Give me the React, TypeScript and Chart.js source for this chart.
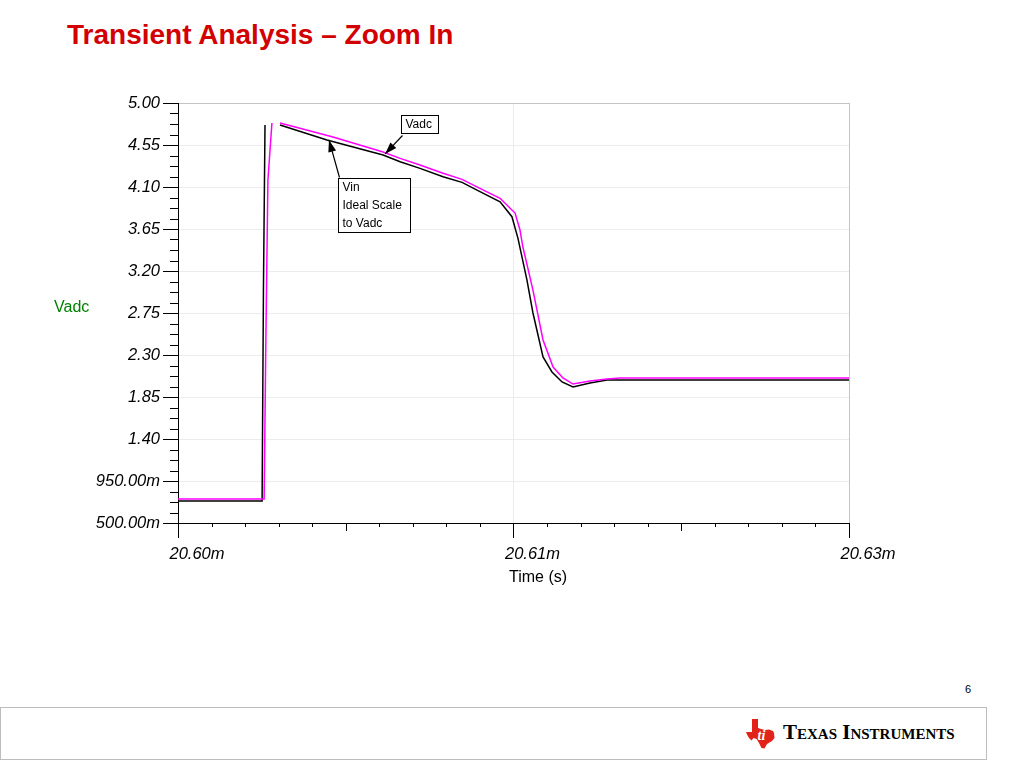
import React, { useEffect, useRef } from "react";
import { Chart, registerables } from "chart.js";

Chart.register(...registerables);

// ---- Data ----
const T_VIN = [20.6, 20.60376, 20.60382, 20.60389, 20.6042, 20.60456, 20.60666, 20.60917, 20.60993, 20.61082, 20.61185, 20.6127, 20.6135, 20.6144, 20.61493, 20.6152, 20.6156, 20.61587, 20.61632, 20.61672, 20.61717, 20.61766, 20.61842, 20.61918, 20.61976, 20.63];
const V_VIN = [0.736, 0.736, 3.0, 4.764, null, 4.764, 4.604, 4.443, 4.371, 4.3, 4.21, 4.15, 4.05, 3.942, 3.782, 3.55, 3.104, 2.75, 2.279, 2.118, 2.011, 1.957, 2.0, 2.032, 2.032, 2.032];

const T_VADC = [20.6, 20.60385, 20.60393, 20.60402, 20.6042, 20.6043, 20.60456, 20.60693, 20.60917, 20.60993, 20.61082, 20.61185, 20.6127, 20.6135, 20.6144, 20.61507, 20.61529, 20.61542, 20.61587, 20.61632, 20.61677, 20.61721, 20.61766, 20.61842, 20.61918, 20.61976, 20.63];
const V_VADC = [0.757, 0.757, 2.5, 4.175, 4.786, null, 4.786, 4.636, 4.475, 4.407, 4.336, 4.247, 4.182, 4.086, 3.979, 3.821, 3.639, 3.457, 2.996, 2.461, 2.171, 2.054, 1.989, 2.021, 2.043, 2.054, 2.054];

const X_MAJOR_TICKS = [20.6, 20.615, 20.63];
const X_TICK_LABELS = ["20.60m", "20.61m", "20.63m"];
const X_SUBDIV = 10;

const Y_MAJOR_TICKS = [0.5, 0.95, 1.4, 1.85, 2.3, 2.75, 3.2, 3.65, 4.1, 4.55, 5.0];
const Y_TICK_LABELS = ["500.00m", "950.00m", "1.40", "1.85", "2.30", "2.75", "3.20", "3.65", "4.10", "4.55", "5.00"];
const Y_SUBDIV = 4;

const X_TITLE = "Time (s)";
const Y_TITLE = "Vadc";

// annotation callouts (anchored in data space)
const CALLOUTS = [
  { lines: ["Vadc"], boxT: 20.60997, boxV: 4.871, w: 37, h: 18, tipT: 20.60926, tipV: 4.454, tail: "bottom" },
  { lines: ["Vin", "Ideal Scale", "to Vadc"], boxT: 20.60715, boxV: 4.196, w: 72, h: 54, tipT: 20.60675, tipV: 4.604, tail: "top" },
];

const FONT = "'Liberation Sans', Arial, Helvetica, sans-serif";

function subdivide(majors: number[], n: number): number[] {
  const out: number[] = [];
  for (let i = 0; i < majors.length; i++) {
    out.push(majors[i]);
    if (i < majors.length - 1) {
      for (let k = 1; k < n; k++) out.push(majors[i] + (k * (majors[i + 1] - majors[i])) / n);
    }
  }
  return out;
}

const toPoints = (ts: number[], vs: (number | null)[]) => ts.map((t, i) => ({ x: t, y: vs[i] }));

const tickMarksPlugin = {
  id: "tickMarks",
  afterDraw(chart: any) {
    const { ctx, chartArea } = chart;
    const x = chart.scales.x;
    const y = chart.scales.y;
    ctx.save();
    ctx.strokeStyle = "#000";
    ctx.lineWidth = 1;
    ctx.beginPath();
    y.ticks.forEach((t: any, i: number) => {
      const py = Math.round(y.getPixelForValue(t.value)) + 0.5;
      const len = i % Y_SUBDIV === 0 ? 15 : 8;
      ctx.moveTo(chartArea.left - len, py);
      ctx.lineTo(chartArea.left, py);
    });
    x.ticks.forEach((t: any, i: number) => {
      const px = Math.round(x.getPixelForValue(t.value)) + 0.5;
      const len = i % X_SUBDIV === 0 ? 15 : i % (X_SUBDIV / 2) === 0 ? 8 : 4;
      ctx.moveTo(px, chartArea.bottom);
      ctx.lineTo(px, chartArea.bottom + len);
    });
    ctx.stroke();

    // axis titles
    ctx.fillStyle = "#000";
    ctx.font = `16px ${FONT}`;
    ctx.textAlign = "center";
    ctx.textBaseline = "middle";
    ctx.fillText(X_TITLE, chartArea.left + 360, chartArea.bottom + 55);
    ctx.fillStyle = "#008000";
    ctx.textAlign = "left";
    ctx.fillText(Y_TITLE, chartArea.left - 124, (chartArea.top + chartArea.bottom) / 2 - 5);

    // callouts
    CALLOUTS.forEach((c) => {
      const bx = Math.round(x.getPixelForValue(c.boxT)) + 0.5;
      const by = Math.round(y.getPixelForValue(c.boxV)) + 0.5;
      ctx.fillStyle = "#fff";
      ctx.fillRect(bx, by, c.w, c.h);
      ctx.strokeStyle = "#000";
      ctx.lineWidth = 1;
      ctx.strokeRect(bx, by, c.w, c.h);
      ctx.fillStyle = "#000";
      ctx.font = `12px ${FONT}`;
      ctx.textAlign = "left";
      ctx.textBaseline = "middle";
      c.lines.forEach((ln, k) => {
        ctx.fillText(ln, bx + 4, by + 9 + k * 18);
      });
      const tx = x.getPixelForValue(c.tipT);
      const ty = y.getPixelForValue(c.tipV);
      const sx = bx + 1;
      const sy = c.tail === "bottom" ? by + c.h + 2 : by - 1;
      ctx.beginPath();
      ctx.lineWidth = 1.2;
      ctx.moveTo(sx, sy);
      ctx.lineTo(tx, ty);
      ctx.stroke();
      const ang = Math.atan2(ty - sy, tx - sx);
      const L = 12;
      const W = 4;
      ctx.beginPath();
      ctx.moveTo(tx, ty);
      ctx.lineTo(tx - L * Math.cos(ang) + W * Math.sin(ang), ty - L * Math.sin(ang) - W * Math.cos(ang));
      ctx.lineTo(tx - L * Math.cos(ang) - W * Math.sin(ang), ty - L * Math.sin(ang) + W * Math.cos(ang));
      ctx.closePath();
      ctx.fill();
    });
    ctx.restore();
  },
};

function TransientChart() {
  const ref = useRef<HTMLCanvasElement | null>(null);
  useEffect(() => {
    if (!ref.current) return;
    const xTicks = subdivide(X_MAJOR_TICKS, X_SUBDIV);
    const yTicks = subdivide(Y_MAJOR_TICKS, Y_SUBDIV);
    const chart = new Chart(ref.current, {
      type: "line",
      data: {
        datasets: [
          {
            label: "Vadc",
            data: toPoints(T_VADC, V_VADC),
            borderColor: "#ff00ff",
            borderWidth: 1.5,
            pointRadius: 0,
            tension: 0,
            spanGaps: false,
          },
          {
            label: "Vin",
            data: toPoints(T_VIN, V_VIN),
            borderColor: "#000000",
            borderWidth: 1.5,
            pointRadius: 0,
            tension: 0,
            spanGaps: false,
          },
        ],
      },
      options: {
        responsive: false,
        animation: false,
        events: [],
        layout: { padding: { left: 0, top: 103, right: 175, bottom: 17 } },
        plugins: { legend: { display: false }, tooltip: { enabled: false }, title: { display: false } },
        scales: {
          x: {
            type: "linear",
            min: X_MAJOR_TICKS[0],
            max: X_MAJOR_TICKS[X_MAJOR_TICKS.length - 1],
            afterBuildTicks: (scale: any) => {
              scale.ticks = xTicks.map((v) => ({ value: v }));
            },
            afterFit: (scale: any) => {
              scale.height = 60;
            },
            ticks: {
              autoSkip: false,
              maxRotation: 0,
              minRotation: 0,
              padding: 22,
              labelOffset: 19,
              color: "#000",
              font: { family: FONT, size: 16.5, style: "italic" },
              callback: (_v: any, i: number) => (i % X_SUBDIV === 0 ? X_TICK_LABELS[i / X_SUBDIV] : ""),
            },
            grid: {
              drawTicks: false,
              lineWidth: 1,
              color: (c: any) => {
                const last = xTicks.length - 1;
                if (c.index === 0 || c.index % X_SUBDIV !== 0) return "rgba(0,0,0,0)";
                return c.index === last ? "#c4c4c4" : "#ececec";
              },
            },
            border: { display: true, color: "#000", width: 1 },
          },
          y: {
            type: "linear",
            min: Y_MAJOR_TICKS[0],
            max: Y_MAJOR_TICKS[Y_MAJOR_TICKS.length - 1],
            afterBuildTicks: (scale: any) => {
              scale.ticks = yTicks.map((v) => ({ value: v }));
            },
            afterFit: (scale: any) => {
              scale.width = 178;
            },
            ticks: {
              autoSkip: false,
              padding: 18,
              color: "#000",
              font: { family: FONT, size: 16.5, style: "italic" },
              callback: (_v: any, i: number) => (i % Y_SUBDIV === 0 ? Y_TICK_LABELS[i / Y_SUBDIV] : ""),
            },
            grid: {
              drawTicks: false,
              lineWidth: 1,
              color: (c: any) => {
                const last = yTicks.length - 1;
                if (c.index === 0 || c.index % Y_SUBDIV !== 0) return "rgba(0,0,0,0)";
                return c.index === last ? "#c4c4c4" : "#ececec";
              },
            },
            border: { display: true, color: "#000", width: 1 },
          },
        },
      },
      plugins: [tickMarksPlugin],
    } as any);
    return () => chart.destroy();
  }, []);
  return <canvas ref={ref} width={1024} height={600} style={{ position: "absolute", left: 0, top: 0 }} />;
}

function TILogo() {
  return (
    <svg width="30" height="30" viewBox="0 0 30 30" style={{ position: "absolute", left: 746, top: 719 }}>
      <path
        d="M6 0 L12 0 L12 9 L15 10 L19 11 L23 10.5 L27 12 L28 14 L28.5 19 L26 22 L21 25 L18.5 29.5 L15.5 29 L13 24 L10.5 20 L7.5 19 L5.5 21.5 L3 19 L1 15.5 L0 13 L6 13 Z"
        fill="#e2231a"
      />
      <text x="15.5" y="21" fontSize="14" fontStyle="italic" fontWeight="bold" fill="#fff" fontFamily="'Liberation Serif', serif" textAnchor="middle">ti</text>
    </svg>
  );
}

export default function App() {
  return (
    <div style={{ position: "absolute", left: 0, top: 0, width: 1024, height: 768, background: "#fff", overflow: "hidden" }}>
      <div
        style={{
          position: "absolute",
          left: 67,
          top: 20.5,
          fontFamily: FONT,
          fontWeight: "bold",
          fontSize: 28,
          lineHeight: 1,
          color: "#d20000",
          whiteSpace: "nowrap",
        }}
      >
        Transient Analysis – Zoom In
      </div>
      <TransientChart />
      <div style={{ position: "absolute", left: 965, top: 683, fontFamily: FONT, fontSize: 11, color: "#000" }}>6</div>
      <div
        style={{
          position: "absolute",
          left: 0,
          top: 707,
          width: 985,
          height: 51,
          border: "1px solid #bdbdbd",
          boxSizing: "content-box",
        }}
      />
      <TILogo />
      <div
        style={{
          position: "absolute",
          left: 783,
          top: 722,
          fontFamily: "'Liberation Serif', 'DejaVu Serif', serif",
          fontWeight: "bold",
          fontSize: 21,
          lineHeight: 1,
          fontVariant: "small-caps",
          color: "#000",
          whiteSpace: "nowrap",
        }}
      >
        Texas Instruments
      </div>
    </div>
  );
}
